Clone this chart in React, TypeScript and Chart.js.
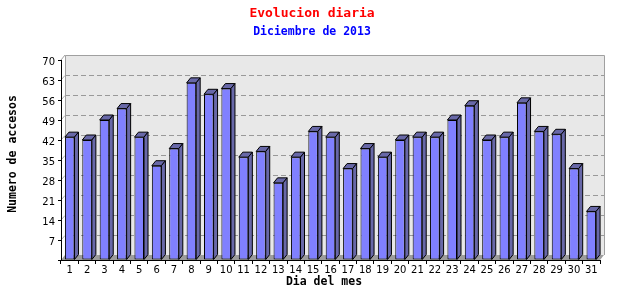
import React, { useEffect, useRef } from 'react';
import { Chart, registerables } from 'chart.js';

Chart.register(...registerables);

const days = ['1','2','3','4','5','6','7','8','9','10','11','12','13','14','15','16','17','18','19','20','21','22','23','24','25','26','27','28','29','30','31'];
const visits = [43, 42, 49, 53, 43, 33, 39, 62, 58, 60, 36, 38, 27, 36, 45, 43, 32, 39, 36, 42, 43, 43, 49, 54, 42, 43, 55, 45, 44, 32, 17];
const yMax = 70;
const yStep = 7;
const titleText = 'Evolucion diaria';
const subtitleText = 'Diciembre de 2013';
const xTitle = 'Dia del mes';
const yTitle = 'Numero de accesos';

const DX = 4;
const DY = -5;

const wallPlugin = {
  id: 'wall3d',
  beforeDraw(chart: any) {
    const { ctx, chartArea } = chart;
    const { left, right, top, bottom } = chartArea;
    const ys = chart.scales.y;
    ctx.save();
    // back wall
    ctx.fillStyle = '#e8e8e8';
    ctx.fillRect(left + DX, top + DY, right - left, bottom - top);
    // floor
    ctx.fillStyle = '#9c9c9c';
    ctx.beginPath();
    ctx.moveTo(left, bottom);
    ctx.lineTo(right, bottom);
    ctx.lineTo(right + DX, bottom + DY);
    ctx.lineTo(left + DX, bottom + DY);
    ctx.closePath();
    ctx.fill();
    // dashed grid on back wall
    ctx.strokeStyle = '#999999';
    ctx.lineWidth = 1;
    ys.ticks.forEach((t: any) => {
      if (t.value <= 0 || t.value >= yMax) return;
      const pf = ys.getPixelForValue(t.value);
      const py = Math.round(pf + DY) + 0.5;
      ctx.setLineDash([]);
      ctx.strokeStyle = '#b0b0b0';
      ctx.beginPath();
      ctx.moveTo(left, pf);
      ctx.lineTo(left + DX, py);
      ctx.stroke();
      ctx.strokeStyle = '#999999';
      ctx.setLineDash([5, 3]);
      ctx.beginPath();
      ctx.moveTo(left + DX, py);
      ctx.lineTo(right + DX, py);
      ctx.stroke();
    });
    ctx.setLineDash([]);
    // wall border
    ctx.strokeStyle = '#a0a0a0';
    ctx.beginPath();
    ctx.moveTo(Math.round(left + DX) + 0.5, bottom + DY);
    ctx.lineTo(Math.round(left + DX) + 0.5, Math.round(top + DY) + 0.5);
    ctx.lineTo(Math.round(right + DX) + 0.5, Math.round(top + DY) + 0.5);
    ctx.lineTo(Math.round(right + DX) + 0.5, bottom + DY);
    ctx.stroke();
    ctx.beginPath();
    ctx.moveTo(left, top);
    ctx.lineTo(left + DX, top + DY);
    ctx.stroke();
    ctx.restore();
  },
  afterDatasetsDraw(chart: any) {
    const { ctx } = chart;
    const meta = chart.getDatasetMeta(0);
    ctx.save();
    ctx.fillStyle = '#6868a8';
    ctx.strokeStyle = '#000000';
    ctx.lineWidth = 1;
    meta.data.forEach((el: any) => {
      const { x, y, base, width } = el.getProps(['x', 'y', 'base', 'width'], true);
      const l = x - width / 2;
      const r = x + width / 2;
      // top face
      ctx.beginPath();
      ctx.moveTo(l, y);
      ctx.lineTo(l + DX, y + DY);
      ctx.lineTo(r + DX, y + DY);
      ctx.lineTo(r, y);
      ctx.closePath();
      ctx.fill();
      ctx.stroke();
      // side face
      ctx.beginPath();
      ctx.moveTo(r, y);
      ctx.lineTo(r + DX, y + DY);
      ctx.lineTo(r + DX, base + DY);
      ctx.lineTo(r, base);
      ctx.closePath();
      ctx.fill();
      ctx.stroke();
    });
    ctx.restore();
  },
  afterDraw(chart: any) {
    const { ctx } = chart;
    ctx.save();
    ctx.textAlign = 'center';
    ctx.textBaseline = 'middle';
    ctx.font = 'bold 13px "DejaVu Sans Mono"';
    ctx.fillStyle = '#ff0000';
    ctx.fillText(titleText, 312, 14);
    ctx.font = 'bold 11.5px "DejaVu Sans Mono"';
    ctx.fillStyle = '#0000ff';
    ctx.fillText(subtitleText, 312, 32);
    ctx.fillStyle = '#000000';
    ctx.fillText(xTitle, 324, 282);
    ctx.translate(13, 154);
    ctx.rotate(-Math.PI / 2);
    ctx.fillText(yTitle, 0, 0);
    ctx.restore();
  },
};

export default function App() {
  const ref = useRef<HTMLCanvasElement | null>(null);
  useEffect(() => {
    if (!ref.current) return;
    const chart = new Chart(ref.current, {
      type: 'bar',
      data: {
        labels: days,
        datasets: [
          {
            data: visits,
            backgroundColor: '#8080ff',
            borderColor: '#000000',
            borderWidth: 1,
            borderSkipped: false,
            barPercentage: 0.55,
            categoryPercentage: 1,
          },
        ],
      },
      options: {
        animation: false,
        responsive: false,
        maintainAspectRatio: false,
        devicePixelRatio: 1,
        layout: { padding: { top: 60, right: 40, left: 0, bottom: 0 } },
        plugins: {
          legend: { display: false },
          title: { display: false },
          tooltip: { enabled: false },
        },
        scales: {
          x: {
            offset: true,
            grid: { display: true, drawOnChartArea: false, drawTicks: true, tickLength: 4, color: '#000000', offset: true },
            border: { display: true, color: '#000000' },
            ticks: { color: '#000000', font: { family: 'DejaVu Sans', size: 10 }, padding: 0, maxRotation: 0, autoSkip: false },
            afterFit: (s: any) => { s.width = s.width; s.height = 40; },
          },
          y: {
            min: 0,
            max: yMax,
            grid: { display: true, drawOnChartArea: false, drawTicks: true, tickLength: 3, color: '#000000' },
            border: { display: true, color: '#000000' },
            ticks: {
              stepSize: yStep,
              color: '#000000',
              font: { family: 'DejaVu Sans', size: 10 },
              padding: 3,
              labelOffset: 2,
              callback: (v: any) => (v === 0 ? '' : String(v)),
            },
            afterFit: (s: any) => { s.width = 61; },
          },
        },
      },
      plugins: [wallPlugin],
    });
    return () => chart.destroy();
  }, []);
  return (
    <div style={{ position: 'absolute', left: 0, top: 0, width: 640, height: 300, background: '#ffffff' }}>
      <canvas ref={ref} width={640} height={300} style={{ display: 'block', width: 640, height: 300 }} />
    </div>
  );
}
